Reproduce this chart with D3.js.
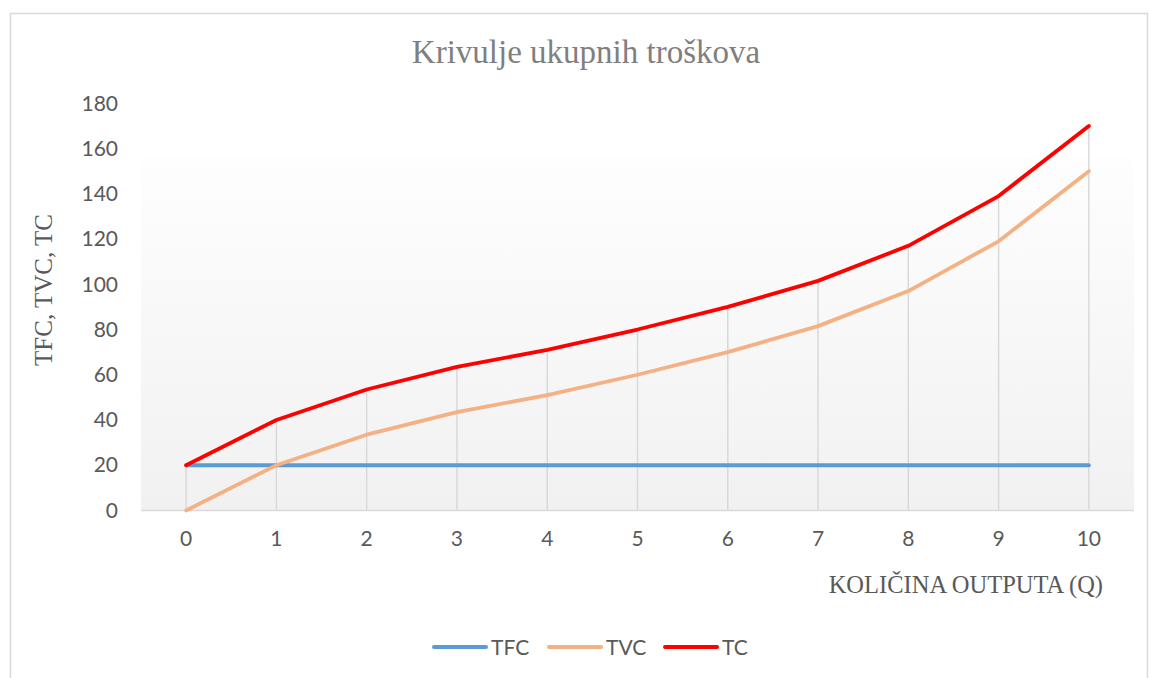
<!DOCTYPE html>
<html>
<head>
<meta charset="utf-8">
<script src="https://cdn.jsdelivr.net/npm/d3@7/dist/d3.min.js"></script>
<style>
  body { margin: 0; background: #fff; }
  svg { display: block; }
</style>
</head>
<body>
<svg id="chart"></svg>
<script>
(function(){

  // data
  var quantities = [0, 1, 2, 3, 4, 5, 6, 7, 8, 9, 10];
  var tfc = [20, 20, 20, 20, 20, 20, 20, 20, 20, 20, 20];
  var tvc = [0, 20, 33.5, 43.5, 51, 60, 70, 81.5, 97, 119, 150];
  var tc  = [20, 40, 53.5, 63.5, 71, 80, 90, 101.5, 117, 139, 170];
  var yTicks = [0, 20, 40, 60, 80, 100, 120, 140, 160, 180];
  var seriesNames = ['TFC', 'TVC', 'TC'];
  var seriesColors = ['#5b9bd5', '#f4b183', '#ff0000'];

  var width = 1149,
      height = 678;

  var plot = { left: 141, right: 1134, top: 103.3, bottom: 510.5 };

  var svg = d3.select('#chart')
    .attr('width', width)
    .attr('height', height);

  var defs = svg.append('defs');
  var grad = defs.append('linearGradient')
    .attr('id', 'bgGrad')
    .attr('x1', 0).attr('y1', 0)
    .attr('x2', 0).attr('y2', 1);
  grad.append('stop').attr('offset', '0%').attr('stop-color', '#fefefe');
  grad.append('stop').attr('offset', '100%').attr('stop-color', '#f1f1f1');

  // outer chart border
  svg.append('rect')
    .attr('x', 10.5).attr('y', 13.5)
    .attr('width', 1137).attr('height', 700)
    .attr('fill', '#fff')
    .attr('stroke', '#d9d9d9')
    .attr('stroke-width', 1.5);

  var x = d3.scaleBand()
    .domain(quantities)
    .range([plot.left, plot.right]);

  var y = d3.scaleLinear()
    .domain([0, 180])
    .range([plot.bottom, plot.top]);

  function cx(d) { return x(d) + x.bandwidth() / 2; }

  // gradient background of plot area
  svg.append('rect')
    .attr('x', plot.left)
    .attr('y', 157)
    .attr('width', plot.right - plot.left)
    .attr('height', plot.bottom - 157)
    .attr('fill', 'url(#bgGrad)');

  // drop lines from highest point down to axis
  svg.append('g')
    .selectAll('line')
    .data(quantities)
    .enter()
    .append('line')
    .attr('x1', cx)
    .attr('x2', cx)
    .attr('y1', function(d, i) { return y(Math.max(tfc[i], tvc[i], tc[i])); })
    .attr('y2', y(0))
    .attr('stroke', '#d9d9d9')
    .attr('stroke-width', 1.5);

  // x axis line
  svg.append('line')
    .attr('x1', plot.left).attr('x2', plot.right)
    .attr('y1', y(0)).attr('y2', y(0))
    .attr('stroke', '#d9d9d9')
    .attr('stroke-width', 1.5);

  // y axis labels
  var yAxis = svg.append('g')
    .attr('transform', 'translate(118,0)')
    .call(d3.axisLeft(y).tickValues(yTicks).tickSize(0).tickPadding(0));
  yAxis.select('.domain').remove();
  yAxis.selectAll('text')
    .attr('fill', '#595959')
    .style('font-family', 'Lato, "Open Sans", sans-serif')
    .style('font-size', '21px');

  // x axis labels
  var xAxis = svg.append('g')
    .attr('transform', 'translate(0,' + y(0) + ')')
    .call(d3.axisBottom(x).tickSize(0).tickPadding(21));
  xAxis.select('.domain').remove();
  xAxis.selectAll('text')
    .attr('fill', '#595959')
    .style('font-family', 'Lato, "Open Sans", sans-serif')
    .style('font-size', '21px');

  // lines
  var line = d3.line()
    .x(function(d, i) { return cx(quantities[i]); })
    .y(function(d) { return y(d); });

  svg.append('g')
    .selectAll('path')
    .data([tfc, tvc, tc])
    .enter()
    .append('path')
    .attr('d', line)
    .attr('fill', 'none')
    .attr('stroke', function(d, i) { return seriesColors[i]; })
    .attr('stroke-width', 3.8)
    .attr('stroke-linejoin', 'round')
    .attr('stroke-linecap', 'round');

  // title
  svg.append('text')
    .attr('x', 586)
    .attr('y', 63)
    .attr('text-anchor', 'middle')
    .attr('fill', '#7f7f7f')
    .style('font-family', '"Liberation Serif", "Times New Roman", serif')
    .style('font-size', '33px')
    .text('Krivulje ukupnih troškova');

  // y axis title
  svg.append('text')
    .attr('transform', 'translate(52,290) rotate(-90)')
    .attr('text-anchor', 'middle')
    .attr('fill', '#595959')
    .style('font-family', '"Liberation Serif", "Times New Roman", serif')
    .style('font-size', '25px')
    .text('TFC, TVC, TC');

  // x axis title
  svg.append('text')
    .attr('x', 1103)
    .attr('y', 593)
    .attr('text-anchor', 'end')
    .attr('fill', '#595959')
    .style('font-family', '"Liberation Serif", "Times New Roman", serif')
    .style('font-size', '24.5px')
    .text('KOLIČINA OUTPUTA (Q)');

  // legend
  var legendX = [433, 548, 664];
  var legend = svg.append('g')
    .selectAll('g')
    .data(seriesNames)
    .enter()
    .append('g')
    .attr('transform', function(d, i) {
      return 'translate(' + legendX[i] + ',647)';
    });

  legend.append('line')
    .attr('x1', 1).attr('x2', 53)
    .attr('y1', 0).attr('y2', 0)
    .attr('stroke', function(d, i) { return seriesColors[i]; })
    .attr('stroke-width', 4)
    .attr('stroke-linecap', 'round');

  legend.append('text')
    .attr('x', 58)
    .attr('y', 7.5)
    .attr('fill', '#595959')
    .style('font-family', 'Lato, "Open Sans", sans-serif')
    .style('font-size', '21px')
    .text(function(d) { return d; });

})();
</script>
</body>
</html>
